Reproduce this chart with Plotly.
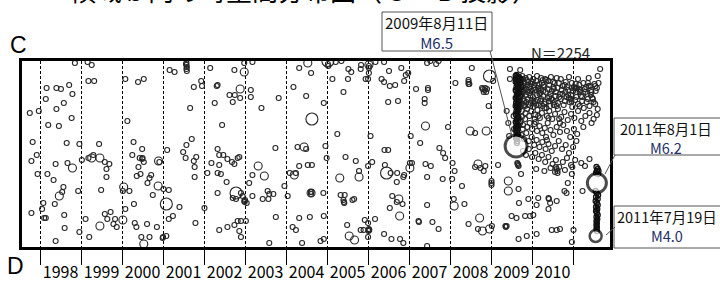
import plotly.graph_objects as go

# ---------------- data (decimal year, position along C->D; 0 = C end, 186 = D end) ----------------
year_ticks = [1998, 1999, 2000, 2001, 2002, 2003, 2004, 2005, 2006, 2007, 2008, 2009, 2010, 2011]
year_labels = ["1998", "1999", "2000", "2001", "2002", "2003", "2004", "2005", "2006", "2007", "2008", "2009", "2010"]
count_label = "N＝2254"

small_events = [
    (1997.75, 52), (1997.97, 50), (1997.82, 81), (1997.92, 94), (1997.79, 100), (1997.94, 113), (1997.79, 152),
    (1998.08, 142), (1998.05, 148), (1998.10, 157), (1998.14, 157), (1998.16, 27), (1998.40, 27), (1998.51, 28),
    (1998.71, 24), (1998.79, 33), (1998.14, 38), (1998.58, 42), (1998.40, 48), (1998.77, 57), (1998.20, 64),
    (1998.46, 65), (1998.65, 82), (1998.96, 83), (1998.38, 103), (1998.67, 102), (1998.18, 113), (1998.33, 119),
    (1998.57, 126), (1998.54, 131), (1998.93, 130), (1998.36, 143), (1998.59, 154), (1998.60, 167), (1998.96, 171),
    (1998.38, 180), (1999.18, 20), (1999.32, 20), (1998.85, 2), (1999.16, 1), (1999.26, 4), (1999.44, 83),
    (1999.02, 99), (1999.18, 97), (1999.30, 94), (1999.58, 101), (1999.69, 103), (1999.62, 108), (1999.62, 116),
    (1999.49, 129), (1999.58, 153), (1999.72, 151), (1999.64, 158), (1999.83, 158), (1999.79, 163), (1999.87, 166),
    (1999.11, 158), (1999.20, 176),
    (2000.08, 18), (2000.39, 21), (2000.53, 18), (2000.13, 60), (2000.28, 81), (2000.49, 88), (2000.25, 94),
    (2000.43, 97), (2000.49, 98), (2000.50, 97), (2000.53, 101), (2000.40, 106), (2000.45, 113), (2000.36, 115),
    (2000.71, 114), (2000.67, 117), (2000.62, 122), (2000.02, 130), (2000.18, 130), (2000.29, 143), (2000.08, 148),
    (2000.75, 134), (2000.31, 162), (2000.35, 166), (2000.61, 163), (2000.85, 166), (2000.47, 176), (2000.67, 176),
    (2001.01, 128), (2001.14, 129), (2001.40, 146), (2001.24, 155), (2001.14, 158), (2000.99, 177), (2001.00, 176),
    (2001.08, 175), (2001.16, 9), (2001.28, 11), (2001.10, 89), (2001.49, 91), (2001.57, 84), (2001.70, 78),
    (2001.55, 97), (2001.81, 96), (2001.75, 100), (2001.77, 106), (2001.77, 116), (2001.66, 47), (2001.75, 26),
    (2001.93, 20), (2001.95, 25), (2001.57, 2), (2001.57, 4), (2001.58, 6), (2001.57, 8), (2001.58, 10),
    (2001.56, 3), (2002.15, 7), (2002.26, 42), (2002.31, 25), (2001.79, 162), (2002.01, 147), (2002.08, 112),
    (2002.18, 102), (2000.91, 101),
    (2002.74, 9), (2002.98, 2), (2003.18, 1), (2002.33, 24), (2002.62, 34), (2002.75, 34), (2002.88, 37),
    (2002.70, 41), (2003.14, 29), (2003.14, 36), (2003.40, 47), (2003.82, 37), (2002.44, 64), (2002.33, 88),
    (2002.37, 94), (2002.47, 94), (2002.57, 98), (2002.68, 101), (2002.74, 103), (2002.82, 97), (2002.86, 96),
    (2002.37, 104), (2002.33, 112), (2002.41, 113), (2002.55, 121), (2003.18, 114), (2003.10, 122), (2003.74, 87),
    (2003.96, 125), (2004.04, 135), (2002.33, 132), (2002.78, 138), (2002.70, 137), (2002.90, 132), (2002.94, 135),
    (2002.98, 140), (2002.99, 141), (2003.00, 139), (2003.04, 142), (2003.18, 135), (2003.43, 138), (2003.55, 130),
    (2003.59, 133), (2003.69, 133), (2003.57, 138), (2003.75, 156), (2002.37, 169), (2002.57, 166), (2002.74, 164),
    (2002.82, 160), (2002.90, 160), (2003.02, 160), (2002.86, 170), (2002.90, 176), (2003.59, 182), (2004.32, 7),
    (2004.61, 12), (2004.18, 26), (2004.49, 35), (2004.28, 86), (2004.49, 88), (2004.32, 105), (2004.53, 104),
    (2004.63, 104), (2004.09, 112), (2004.24, 112), (2004.60, 131), (2004.61, 133), (2004.62, 131), (2004.32, 157),
    (2004.58, 156), (2004.16, 166), (2004.24, 169), (2004.39, 182),
    (2005.02, 3), (2005.03, 5), (2005.13, 18), (2005.21, 1), (2005.35, 0), (2005.52, 8), (2005.59, 11),
    (2005.82, 8), (2005.83, 4), (2006.02, 12), (2006.00, 18), (2005.94, 18), (2006.18, 1), (2006.39, 1),
    (2006.51, 10), (2006.33, 18), (2006.39, 21), (2006.53, 25), (2006.66, 24), (2006.81, 7), (2006.92, 14),
    (2006.98, 12), (2006.88, 20), (2005.51, 18), (2005.40, 31), (2006.49, 41), (2006.73, 40), (2004.92, 42),
    (2005.25, 73), (2006.06, 75), (2007.04, 75), (2004.96, 85), (2004.99, 97), (2005.45, 96), (2005.70, 100),
    (2006.00, 105), (2006.10, 101), (2006.40, 89), (2006.49, 89), (2006.41, 104), (2006.55, 112), (2006.71, 112),
    (2006.88, 114), (2006.86, 116), (2007.02, 102), (2005.78, 110), (2004.91, 132), (2005.33, 134), (2005.43, 134),
    (2005.40, 139), (2005.41, 141), (2005.42, 142), (2005.62, 139), (2005.66, 138), (2004.92, 155), (2006.59, 135),
    (2006.70, 141), (2006.84, 143), (2006.53, 147), (2006.70, 121), (2005.49, 164), (2005.82, 169), (2005.89, 169),
    (2006.02, 169), (2006.01, 170), (2006.02, 168), (2006.03, 169), (2005.92, 159), (2006.00, 162), (2006.17, 158),
    (2006.00, 176), (2004.84, 180), (2004.92, 178), (2006.39, 173), (2006.57, 178), (2006.78, 178), (2006.86, 182),
    (2006.02, 5), (2006.02, 7),
    (2007.44, 2), (2007.52, 0), (2007.66, 3), (2007.72, 0), (2007.17, 28), (2007.46, 27), (2007.46, 29),
    (2007.38, 38), (2007.38, 42), (2007.95, 66), (2007.27, 82), (2007.74, 87), (2007.83, 92), (2007.88, 97),
    (2007.40, 103), (2007.53, 105), (2007.07, 102), (2007.44, 116), (2007.82, 118), (2008.13, 22), (2008.45, 19),
    (2008.45, 21), (2008.45, 23), (2008.47, 23), (2008.53, 7), (2008.78, 27), (2008.80, 28), (2008.82, 31),
    (2008.84, 29), (2008.86, 27), (2008.90, 28), (2008.88, 31), (2008.94, 45), (2009.05, 20), (2008.61, 72),
    (2008.06, 102), (2008.11, 110), (2008.05, 118), (2008.29, 125), (2008.61, 106), (2008.74, 107), (2008.82, 110),
    (2008.86, 105), (2009.17, 104), (2009.01, 120), (2009.01, 122), (2009.01, 124), (2008.09, 138), (2008.35, 143),
    (2007.44, 144), (2007.23, 160), (2007.24, 161), (2007.57, 161), (2007.72, 168), (2007.44, 185), (2008.45, 163),
    (2008.68, 168), (2009.02, 165), (2009.35, 165), (2009.36, 166),
    (2009.46, 8), (2009.71, 9), (2009.46, 18), (2010.32, 18), (2010.40, 20), (2010.60, 17), (2010.97, 22),
    (2011.05, 27), (2011.54, 25), (2011.66, 8), (2009.73, 113), (2009.67, 128), (2009.68, 142), (2009.50, 155),
    (2009.62, 157), (2009.91, 138), (2010.15, 137), (2010.11, 144), (2010.40, 137), (2010.41, 138), (2010.44, 142),
    (2010.60, 140), (2010.40, 148), (2010.87, 122), (2010.79, 130), (2010.84, 132), (2011.23, 130), (2009.83, 155),
    (2009.95, 155), (2010.03, 154), (2009.38, 165), (2009.67, 178), (2009.87, 175), (2010.11, 173), (2010.48, 169),
    (2010.60, 169), (2010.68, 168), (2011.01, 169), (2010.97, 181), (2010.58, 106), (2010.60, 108), (2010.62, 110),
    (2010.56, 111), (2011.29, 105), (2010.97, 113), (2009.38, 50), (2009.42, 62), (2009.44, 75), (2009.55, 55),
    (2009.56, 68), (2009.64, 102), (2009.65, 103), (2009.66, 104), (2009.67, 105),
]

medium_events = [
    (1998.79, 107), (1998.47, 135), (1999.26, 97), (1999.46, 97), (1999.46, 165),
    (2000.89, 100), (2000.04, 126), (2000.88, 125), (2000.02, 159), (2000.53, 183),
    (2002.98, 11), (2002.88, 28), (2003.32, 105), (2003.47, 115), (2004.53, 2), (2004.44, 86), (2004.20, 114),
    (2004.61, 132), (2006.02, 4), (2007.02, 107), (2005.78, 116), (2005.31, 117), (2006.75, 138), (2006.77, 155),
    (2005.54, 175), (2005.67, 179), (2007.40, 65), (2008.88, 70), (2008.49, 70), (2008.68, 103), (2008.10, 145),
    (2008.72, 157), (2008.79, 170), (2008.96, 168), (2009.42, 120), (2009.42, 130),
]

large_events = [
    (2001.08, 143), (2002.78, 132), (2004.63, 58), (2005.02, 0), (2006.45, 112), (2008.96, 15),
]

# aftershock cloud after the 2009-08-11 event (estimated from the dense region)
cloud_events = [
    (2009.70, 20), (2009.74, 24), (2009.78, 18), (2009.82, 22), (2009.86, 28), (2009.90, 21), (2009.95, 26),
    (2010.00, 30), (2010.05, 24), (2010.10, 20), (2010.15, 27), (2010.20, 32), (2010.24, 22), (2010.30, 26),
    (2010.35, 19), (2010.42, 24), (2010.48, 30), (2010.55, 22), (2010.62, 27), (2010.68, 33), (2010.75, 25),
    (2010.82, 21), (2010.88, 29), (2010.95, 34), (2011.02, 26), (2011.08, 31), (2011.15, 24), (2011.22, 36),
    (2011.28, 28), (2011.35, 33), (2011.42, 25), (2011.48, 38), (2011.55, 30), (2011.62, 22),
    (2009.76, 15), (2009.84, 17), (2009.93, 16), (2010.03, 18), (2010.12, 15), (2010.22, 17), (2010.46, 16),
    (2010.70, 18), (2010.90, 16), (2011.12, 18), (2011.38, 17), (2011.60, 15),
    (2009.68, 26), (2009.73, 29), (2009.79, 25), (2009.88, 31), (2009.97, 23), (2010.08, 29), (2010.18, 23),
    (2010.27, 30), (2010.38, 28), (2010.52, 26), (2010.58, 31), (2010.72, 29), (2010.85, 26), (2011.00, 30),
    (2011.18, 29), (2011.32, 26), (2011.45, 31), (2011.58, 27),
    (2009.68, 32), (2009.72, 36), (2009.77, 30), (2009.81, 40), (2009.85, 34), (2009.89, 38), (2009.93, 32),
    (2009.97, 42), (2010.02, 36), (2010.07, 40), (2010.12, 34), (2010.17, 44), (2010.22, 38), (2010.27, 35),
    (2010.33, 41), (2010.38, 37), (2010.44, 45), (2010.50, 39), (2010.57, 35), (2010.63, 42), (2010.70, 38),
    (2010.77, 44), (2010.84, 36), (2010.91, 41), (2010.98, 46), (2011.05, 39), (2011.12, 43), (2011.19, 35),
    (2011.26, 47), (2011.33, 41), (2011.40, 45), (2011.47, 37), (2011.54, 43), (2011.60, 48),
    (2009.70, 40), (2009.75, 43), (2009.83, 45), (2009.91, 44), (2010.00, 39), (2010.10, 44), (2010.20, 40),
    (2010.30, 43), (2010.41, 40), (2010.53, 44), (2010.66, 36), (2010.80, 40), (2010.94, 38), (2011.08, 36),
    (2011.22, 40), (2011.36, 38), (2011.50, 41),
    (2009.70, 46), (2009.75, 50), (2009.80, 44), (2009.84, 52), (2009.88, 48), (2009.93, 55), (2009.98, 50),
    (2010.03, 46), (2010.08, 54), (2010.13, 49), (2010.19, 57), (2010.24, 52), (2010.30, 47), (2010.36, 55),
    (2010.42, 50), (2010.49, 58), (2010.56, 53), (2010.63, 48), (2010.71, 56), (2010.79, 51), (2010.87, 59),
    (2010.95, 53), (2011.03, 57), (2011.12, 50), (2011.20, 60), (2011.30, 55), (2011.40, 52), (2011.50, 58),
    (2011.58, 54),
    (2009.72, 60), (2009.78, 64), (2009.83, 58), (2009.88, 66), (2009.94, 62), (2010.00, 68), (2010.06, 63),
    (2010.12, 70), (2010.18, 65), (2010.25, 72), (2010.31, 67), (2010.38, 62), (2010.45, 69), (2010.52, 74),
    (2010.60, 66), (2010.68, 71), (2010.76, 64), (2010.85, 70), (2010.93, 76), (2011.02, 68), (2011.10, 73),
    (2011.25, 66), (2011.45, 62),
    (2009.74, 74), (2009.80, 78), (2009.86, 72), (2009.92, 80), (2009.99, 76), (2010.05, 84), (2010.11, 79),
    (2010.18, 86), (2010.25, 81), (2010.33, 88), (2010.40, 83), (2010.48, 90), (2010.56, 85), (2010.65, 80),
    (2010.73, 88), (2010.82, 84), (2010.90, 92), (2011.00, 86), (2011.08, 80),
    (2009.78, 90), (2009.85, 94), (2009.92, 88), (2010.00, 96), (2010.08, 92), (2010.16, 98), (2010.24, 94),
    (2010.32, 101), (2010.40, 96), (2010.50, 103), (2010.58, 99), (2010.66, 106), (2010.75, 101), (2010.85, 97),
    (2010.95, 104), (2011.05, 99),
    (2010.10, 108), (2010.30, 110), (2010.45, 107), (2010.62, 112), (2010.80, 109), (2010.98, 106), (2011.20, 102),
    (2011.40, 98),
    # darker knots inside the cloud
    (2009.69, 19), (2009.71, 27), (2009.73, 21), (2009.76, 33), (2009.79, 38), (2009.81, 29), (2009.72, 44),
    (2009.75, 56), (2009.77, 68), (2009.71, 62), (2010.16, 30), (2010.18, 33), (2010.21, 29), (2010.42, 36),
    (2010.45, 33), (2010.47, 38), (2010.88, 34), (2010.90, 37), (2011.14, 28), (2011.16, 31), (2011.36, 22),
    (2011.38, 25), (2010.06, 58), (2010.09, 61), (2010.34, 76), (2010.36, 79), (2010.66, 58), (2010.68, 62),
    (2009.87, 19), (2009.89, 24), (2009.91, 29), (2010.01, 21), (2010.04, 27), (2010.13, 24), (2010.26, 19),
    (2010.28, 24), (2010.33, 31), (2010.51, 21), (2010.53, 28), (2010.65, 22), (2010.79, 24), (2010.81, 31),
    (2010.97, 27), (2011.06, 23), (2011.10, 27), (2011.25, 22), (2011.30, 31), (2011.44, 29), (2011.52, 23),
    (2009.96, 35), (2010.04, 42), (2010.14, 39), (2010.25, 45), (2010.35, 47), (2010.55, 41), (2010.74, 33),
    (2010.96, 40), (2011.16, 45), (2011.43, 34), (2009.86, 41), (2010.60, 45), (2010.15, 55), (2010.40, 57),
]

# dense column of early aftershocks of the 2009-08-11 event
column_2009 = [
    (2009.62, 14), (2009.64, 16), (2009.61, 18), (2009.66, 20), (2009.63, 22), (2009.65, 24), (2009.62, 26),
    (2009.64, 28), (2009.61, 30), (2009.66, 32), (2009.63, 34), (2009.65, 36), (2009.62, 38), (2009.64, 40),
    (2009.61, 42), (2009.66, 44), (2009.63, 46), (2009.65, 48), (2009.62, 50), (2009.64, 52), (2009.61, 54),
    (2009.66, 56), (2009.63, 58), (2009.65, 60), (2009.62, 62), (2009.64, 64), (2009.61, 66), (2009.65, 68),
    (2009.63, 70), (2009.62, 72), (2009.64, 74), (2009.63, 76), (2009.62, 78), (2009.64, 80), (2009.63, 82),
    (2009.60, 15), (2009.67, 17), (2009.60, 21), (2009.67, 25), (2009.60, 29), (2009.67, 33), (2009.60, 37),
    (2009.67, 41), (2009.60, 45), (2009.67, 49), (2009.60, 53), (2009.67, 57), (2009.60, 61), (2009.67, 65),
    (2009.60, 69), (2009.66, 73), (2009.61, 77),
    (2009.68, 16), (2009.72, 18), (2009.70, 22), (2009.74, 26), (2009.69, 30), (2009.71, 35),
]

# dense column between the 2011-07-19 and 2011-08-01 events
column_2011 = [
    (2011.57, 106), (2011.60, 108), (2011.62, 110), (2011.58, 110), (2011.56, 112), (2011.61, 113),
    (2011.55, 130), (2011.58, 132), (2011.61, 134), (2011.56, 136), (2011.60, 138), (2011.55, 140),
    (2011.58, 142), (2011.60, 144), (2011.56, 146), (2011.59, 148), (2011.56, 150), (2011.58, 152),
    (2011.60, 154), (2011.57, 156), (2011.59, 158), (2011.57, 160), (2011.58, 162), (2011.57, 164),
    (2011.58, 166), (2011.57, 168), (2011.58, 170),
]

main_years = [2009.61, 2011.58, 2011.55]
main_dists = [85, 122, 175]
main_mags = [6.5, 6.2, 4.0]
main_dates = ["2009年8月11日", "2011年8月1日", "2011年7月19日"]
main_mlabels = ["M6.5", "M6.2", "M4.0"]

# ---------------- figure ----------------
fig = go.Figure()

ev_line = "#262626"


def add_group(events, size, width=1.1, color=ev_line):
    fig.add_trace(go.Scatter(
        x=[e[0] for e in events], y=[e[1] for e in events], mode="markers",
        marker=dict(symbol="circle-open", size=size, color=color, line=dict(width=width, color=color)),
        hoverinfo="skip", showlegend=False))


add_group(small_events, 5)
add_group(cloud_events, 5)
add_group(column_2009, 5, 1.3, "#111111")
add_group(column_2011, 5, 1.3, "#111111")
add_group(medium_events, 8)
add_group(large_events, 12)

main_size = {6.5: 22, 6.2: 19, 4.0: 12}
main_lw = {6.5: 3, 6.2: 3, 4.0: 2.5}
fig.add_trace(go.Scatter(
    x=main_years, y=main_dists, mode="markers",
    marker=dict(symbol="circle", color="white",
                size=[main_size[m] for m in main_mags],
                line=dict(color="black", width=[main_lw[m] for m in main_mags])),
    hoverinfo="skip", showlegend=False))

# pixel -> paper helpers for layout decorations (plot area: x 22..610, y 61..247)
L, R, T, B = 22, 610, 61, 247


def px(x):
    return (x - L) / (R - L)


def py(y):
    return (B - y) / (B - T)


shapes = []
annotations = []
box_color = "#555555"
navy = "#1f2f6b"
cjk = "Noto Sans CJK JP"

boxes = [
    # (x0, y_top, x1, y_bottom, text_cx, text_cy, leader from, leader to, font size)
    (382, 12, 492, 51, 437, 33, (490, 51), (512, 136), 15),
    (614, 118, 726, 155, 666, 137.5, (615, 155), (605, 174), 14.5),
    (614, 206, 726, 248, 667, 225.5, (615, 227), (606, 235), 14.5),
]
for i, (x0, y0, x1, y1, cx, cy, p0, p1, fs) in enumerate(boxes):
    shapes.append(dict(type="rect", xref="paper", yref="paper", x0=px(x0), x1=px(x1), y0=py(y1), y1=py(y0),
                       line=dict(color=box_color, width=1), fillcolor="white", layer="above"))
    shapes.append(dict(type="line", xref="paper", yref="paper", x0=px(p0[0]), y0=py(p0[1]),
                       x1=px(p1[0]), y1=py(p1[1]), line=dict(color=box_color, width=1), layer="above"))
    annotations.append(dict(
        xref="paper", yref="paper", x=px(cx), y=py(cy), showarrow=False, xanchor="center", yanchor="middle",
        text=f"{main_dates[i]}<br><span style='color:{navy}'>{main_mlabels[i]}</span>",
        font=dict(family=cjk, size=fs, color="#111111"), align="center"))

annotations.append(dict(xref="paper", yref="paper", x=px(592), y=py(52), xanchor="right", yanchor="middle",
                        showarrow=False, text=count_label, font=dict(family=cjk, size=15, color="#222222")))
annotations.append(dict(xref="paper", yref="paper", x=px(18), y=py(45), xanchor="center", yanchor="middle",
                        showarrow=False, text="C", font=dict(family="Liberation Sans", size=23, color="black")))
annotations.append(dict(xref="paper", yref="paper", x=px(15), y=py(266), xanchor="center", yanchor="middle",
                        showarrow=False, text="D", font=dict(family="Liberation Sans", size=23, color="black")))
annotations.append(dict(xref="paper", yref="paper", x=px(304), y=py(10), xanchor="center", yanchor="bottom",
                        showarrow=False, text="領域ｂ内の時空間分布図（Ｃ－Ｄ投影）",
                        font=dict(family=cjk, size=26, color="black")))

fig.update_layout(
    template="none",
    width=720, height=284,
    margin=dict(l=L, r=720 - R, t=T, b=284 - B, pad=0, autoexpand=False),
    paper_bgcolor="white", plot_bgcolor="white",
    shapes=shapes, annotations=annotations,
    xaxis=dict(
        automargin=False,
        range=[1997.56, 2011.90], showgrid=False, zeroline=False,
        showline=True, linewidth=3, linecolor="black", mirror=True,
        tickmode="array", tickvals=[y + 0.5 for y in year_ticks[:-1]], ticktext=year_labels,
        ticks="outside", ticklen=9, tickcolor="rgba(0,0,0,0)",
        tickfont=dict(family=cjk, size=16, color="black"),
        minor=dict(tickmode="array", tickvals=year_ticks, ticks="outside", ticklen=15,
                   tickcolor="black", tickwidth=1, showgrid=True, gridcolor="black",
                   gridwidth=1, griddash="3px,2px"),
    ),
    yaxis=dict(
        automargin=False,
        range=[186, 0], showgrid=False, zeroline=False, showticklabels=False, ticks="",
        showline=True, linewidth=3, linecolor="black", mirror=True,
    ),
)

fig.write_html("out.html", config={"displayModeBar": False},
               post_script="document.body.style.margin='0px';document.body.style.padding='0px';")
